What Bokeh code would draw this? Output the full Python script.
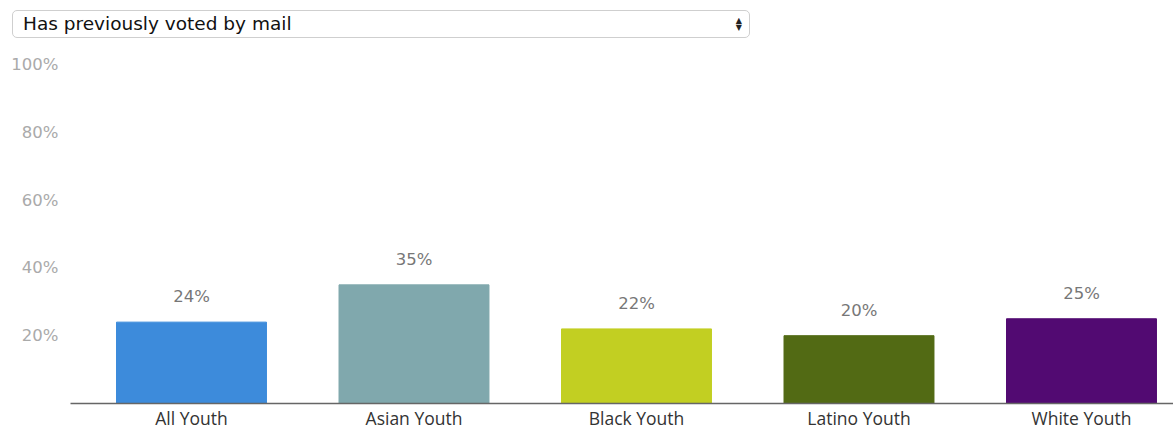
from bokeh.plotting import figure
from bokeh.models import ColumnDataSource, Range1d, FixedTicker, Div
from bokeh.layouts import column
from bokeh.core.properties import value
from bokeh.embed import file_html
from bokeh.resources import INLINE

# ---- data ----
categories = ["All Youth", "Asian Youth", "Black Youth", "Latino Youth", "White Youth"]
percent = [24, 35, 22, 20, 25]
colors = ["#3d8bdb", "#80a8ad", "#c2cf22", "#526a14", "#520a72"]
y_ticks = [20, 40, 60, 80, 100]
question = "Has previously voted by mail"

xs = list(range(len(categories)))
src = ColumnDataSource(dict(
    x=xs,
    top=percent,
    color=colors,
    label=[f"{v}%" for v in percent],
))

# ---- dropdown look-alike ----
select_html = f"""
<div style="box-sizing:border-box;width:738px;height:28px;border:1px solid #cfcfcf;
border-radius:5px;background:#fff;position:relative;
font-family:'DejaVu Sans',sans-serif;font-size:18.5px;line-height:26px;
padding-left:10px;color:#111;white-space:nowrap;">{question}
<span style="position:absolute;right:7px;top:6px;font-size:8px;line-height:7px;color:#222;">&#9650;<br>&#9660;</span>
</div>"""
dropdown = Div(text=select_html, width=738, height=28, margin=(10, 0, 0, 12))

# ---- chart ----
p = figure(width=1165, height=394, output_backend="svg", toolbar_location=None,
           x_range=Range1d(-0.5438, 4.4135), y_range=Range1d(0, 100),
           min_border_left=62, min_border_right=0, min_border_top=26, min_border_bottom=26,
           margin=(0, 0, 0, 8))

p.vbar(x="x", top="top", width=0.674, color="color", source=src)
p.text(x="x", y="top", text="label", source=src, text_align="center", text_baseline="bottom",
       y_offset=-16, text_font=value("DejaVu Sans"), text_font_size="16.5px", text_color="#777777")

p.xgrid.visible = False
p.ygrid.visible = False
p.outline_line_color = None
p.background_fill_color = "white"
p.border_fill_color = "white"

xa = p.xaxis[0]
xa.ticker = FixedTicker(ticks=xs)
xa.major_label_overrides = {i: c for i, c in zip(xs, categories)}
xa.major_tick_line_color = None
xa.minor_tick_line_color = None
xa.major_tick_out = 0
xa.major_tick_in = 0
xa.minor_tick_out = 0
xa.axis_line_color = "#666666"
xa.axis_line_width = 1.5
xa.major_label_standoff = 2
xa.major_label_text_font = "Open Sans"
xa.major_label_text_font_size = "17.5px"
xa.major_label_text_color = "#333333"

ya = p.yaxis[0]
ya.ticker = FixedTicker(ticks=y_ticks)
ya.major_label_overrides = {t: f"{t}%" for t in y_ticks}
ya.major_tick_line_color = None
ya.minor_tick_line_color = None
ya.major_tick_out = 0
ya.major_tick_in = 0
ya.minor_tick_out = 0
ya.axis_line_color = None
ya.major_label_standoff = 12
ya.major_label_text_font = "DejaVu Sans"
ya.major_label_text_font_size = "16.5px"
ya.major_label_text_color = "#aaaaaa"

layout = column(dropdown, p, spacing=0)
open("out.html", "w").write(file_html(layout, INLINE))
